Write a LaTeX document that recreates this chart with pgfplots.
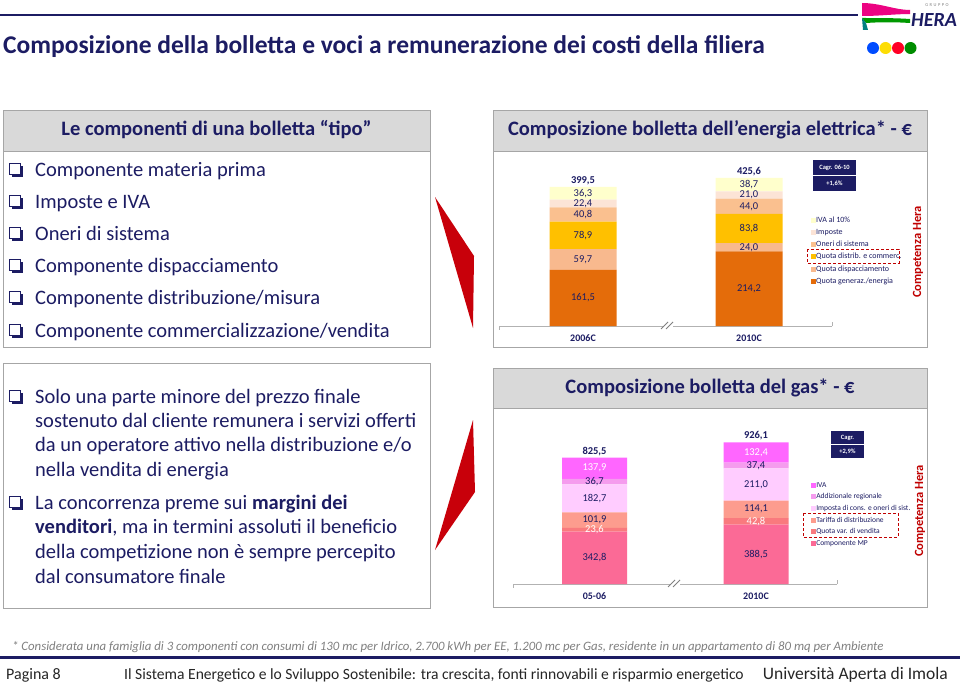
\documentclass[border=0pt]{standalone}
\usepackage{pgfplots}
\pgfplotsset{compat=1.18}
\usepackage{pgfplotstable}
\usepackage{fontspec}
\setmainfont{Carlito}

\definecolor{navy}{HTML}{1C1C63}
\definecolor{hdrgray}{HTML}{D9D9D9}
\definecolor{bordergray}{HTML}{A6A6A6}
\definecolor{hred}{HTML}{C00000}
\definecolor{arrowred}{HTML}{C8000A}
\definecolor{eGen}{HTML}{E46C0A}
\definecolor{eDisp}{HTML}{F8B98E}
\definecolor{eDist}{HTML}{FFC000}
\definecolor{eOneri}{HTML}{FAC08F}
\definecolor{eImp}{HTML}{FCE4D6}
\definecolor{eIva}{HTML}{FFFFCC}
\definecolor{gMP}{HTML}{FB6A96}
\definecolor{gVend}{HTML}{F97A7E}
\definecolor{gDist}{HTML}{FD9C8E}
\definecolor{gImp}{HTML}{FFCCFF}
\definecolor{gAdd}{HTML}{F59CEE}
\definecolor{gIva}{HTML}{FF66FF}

\newcommand\fs[1]{\fontsize{#1}{#1}\selectfont}
\newcommand\cbox[2]{%
  \begin{scope}[shift={(#1,#2)}]
    \draw[navy,line width=1pt] (0,0) rectangle (11,11);
    \fill[navy] (11.5,2.5) rectangle (13.5,13.5);
    \fill[navy] (2.5,11.5) rectangle (13.5,13.5);
  \end{scope}}

\pgfplotstableread{
x gen disp dist oneri imp iva
583 161.5 59.7 78.9 40.8 22.4 36.3
749 214.2 24.0 83.8 44.0 21.0 38.7
}\elec
\pgfplotstableread{
x tot lab
583 399.5 399,5
749 425.6 425,6
}\electot
\pgfplotstableread{
x mp vend dist imp add iva
594.5 342.8 23.6 101.9 182.7 36.7 137.9
756 388.5 42.8 114.1 211.0 37.4 132.4
}\gas
\pgfplotstableread{
x tot lab
594.5 825.5 825,5
756 926.1 926,1
}\gastot

\begin{document}
\begin{tikzpicture}[x=1pt,y=-1pt]
\useasboundingbox (0,0) rectangle (960,685);
\fill[white] (0,0) rectangle (960,685);

% ---------- header ----------
\draw[navy,line width=2.5pt] (0,15) -- (858,15);
\node[anchor=base west,inner sep=0,text=navy,font=\bfseries\fs{25.5}] at (3,53) {Composizione della bolletta e voci a remunerazione dei costi della filiera};
% logo
\fill[magenta!90!red] (862,3) .. controls (880,3) and (895,10) .. (910,10) -- (910,14) .. controls (895,14) and (880,16) .. (862,16) -- cycle;
\fill[green!60!black] (862,18) .. controls (880,18) and (895,18) .. (910,19) -- (910,23) .. controls (895,22) and (880,22) .. (866,23) -- cycle;
\fill[teal] (862,18) -- (866,23) -- (868,30) -- (863,30) -- cycle;
\node[text=navy,font=\bfseries\itshape\fs{20},inner sep=0] at (934,20) {HERA};
\node[text=gray,font=\fs{4.5},inner sep=0] at (937,5) {G\,\,R\,\,U\,\,P\,\,P\,\,O};
\fill[blue!70!cyan] (873,48) circle[radius=6pt];
\fill[yellow!80!orange] (885.5,48) circle[radius=6pt];
\fill[red!85!magenta] (898,48) circle[radius=6pt];
\fill[green!55!black] (910.5,48) circle[radius=6pt];

% ---------- top-left panel ----------
\draw[bordergray,fill=white] (3,110) rectangle (430,347);
\fill[hdrgray] (3,110) rectangle (430,151);
\draw[bordergray] (3,110) rectangle (430,151);
\node[text=navy,font=\bfseries\fs{20.5},inner sep=0] at (216.5,130) {Le componenti di una bolletta “tipo”};
\foreach \yy/\tt in {170/{Componente materia prima},202/{Imposte e IVA},234/{Oneri di sistema},266/{Componente dispacciamento},298/{Componente distribuzione/misura},331/{Componente commercializzazione/vendita}}{
  \cbox{9.5}{\yy-7}
  \node[anchor=base west,inner sep=0,text=navy,font=\fs{20.5}] at (35,\yy+6.5) {\tt};
}

% ---------- bottom-left panel ----------
\draw[bordergray,fill=white] (3,363) rectangle (430,608);
\cbox{9.5}{390}
\cbox{9.5}{496}
\foreach \yy/\tt in {397/{Solo una parte minore del prezzo finale},421/{sostenuto dal cliente remunera i servizi offerti},445/{da un operatore attivo nella distribuzione e/o},470/{nella vendita di energia},503/{La concorrenza preme sui \textbf{margini dei}},527/{\textbf{venditori}, ma in termini assoluti il beneficio},552/{della competizione non è sempre percepito},577/{dal consumatore finale}}{
  \node[anchor=base west,inner sep=0,text=navy,font=\fs{20.5}] at (35,\yy+6.5) {\tt};
}

% ---------- arrows ----------
\fill[arrowred] (435,197) -- (474,256) -- (473,328) -- cycle;
\fill[arrowred] (473,420) -- (475,492) -- (435,550) -- cycle;

% ---------- right panels ----------
\draw[bordergray,fill=white] (493,110) rectangle (927,347);
\fill[hdrgray] (493,110) rectangle (927,151);
\draw[bordergray] (493,110) rectangle (927,151);
\node[text=navy,font=\bfseries\fs{20.5},inner sep=0] at (710,130) {Composizione bolletta dell’energia elettrica* - €};

\draw[bordergray,fill=white] (493,368) rectangle (927,607);
\fill[hdrgray] (493,368) rectangle (927,408);
\draw[bordergray] (493,368) rectangle (927,408);
\node[text=navy,font=\bfseries\fs{20.5},inner sep=0] at (710,388) {Composizione bolletta del gas* - €};

% ---------- electricity chart ----------
\begin{axis}[
  at={(499pt,-326pt)}, anchor=south west,
  x=1pt, y=0.348pt, xmin=499, xmax=832, ymin=0, ymax=500,
  enlargelimits=false, clip=false,
  axis x line=bottom, axis y line=none,
  x axis line style={-, draw=gray!60, line width=0.6pt},
  xtick={583,749}, xticklabels={2006C,2010C},
  xtick style={draw=none}, ytick=\empty,
  xticklabel style={font=\bfseries\fs{10}, text=navy, yshift=-3pt},
  ybar stacked, bar width=67pt,
  nodes near coords, point meta=explicit,
  every node near coord/.append style={font=\fs{10.5}, text=navy, anchor=center},
  legend cell align=left, reverse legend,
  legend style={at={(rel axis cs:0.937,0.632)}, anchor=north west, draw=none, fill=none, font=\fs{8}, text=navy, row sep=4.2pt, inner sep=0pt, nodes={inner sep=0pt, text height=6pt, text depth=2pt}, /tikz/every even column/.append style={column sep=1.5pt}},
  every axis plot post/.append style={draw=none, legend image code/.code={\fill[##1] (0pt,-2.5pt) rectangle (5pt,2.5pt);}},
  /pgf/number format/use comma, /pgf/number format/fixed, /pgf/number format/fixed zerofill, /pgf/number format/precision=1, /pgf/number format/assume math mode=true,
]
\addplot[fill=eGen] table[x=x,y=gen,meta=gen]{\elec};
\addplot[fill=eDisp] table[x=x,y=disp,meta=disp]{\elec};
\addplot[fill=eDist] table[x=x,y=dist,meta=dist]{\elec};
\addplot[fill=eOneri] table[x=x,y=oneri,meta=oneri]{\elec};
\addplot[fill=eImp] table[x=x,y=imp,meta=imp]{\elec};
\addplot[fill=eIva] table[x=x,y=iva,meta=iva]{\elec};
\legend{Quota generaz./energia, Quota dispacciamento, Quota distrib. e commerc., Oneri di sistema, Imposte, IVA al 10\%}
\end{axis}
\begin{axis}[
  at={(499pt,-326pt)}, anchor=south west,
  x=1pt, y=0.348pt, xmin=499, xmax=832, ymin=0, ymax=500,
  enlargelimits=false, clip=false, hide axis,
]
\addplot[draw=none, nodes near coords, point meta=explicit symbolic, every node near coord/.style={anchor=south, font=\bfseries\fs{10.5}, text=navy, inner sep=2pt}] table[x=x,y=tot,meta=lab]{\electot};
\end{axis}

% ---------- gas chart ----------
\begin{axis}[
  at={(513pt,-584pt)}, anchor=south west,
  x=1pt, y=0.153pt, xmin=513, xmax=837, ymin=0, ymax=1000,
  enlargelimits=false, clip=false,
  axis x line=bottom, axis y line=none,
  x axis line style={-, draw=gray!60, line width=0.6pt},
  xtick={594.5,756}, xticklabels={05-06,2010C},
  xtick style={draw=none}, ytick=\empty,
  xticklabel style={font=\bfseries\fs{10}, text=navy, yshift=-3pt},
  ybar stacked, bar width=65pt,
  nodes near coords, point meta=explicit,
  every node near coord/.append style={font=\fs{10.5}, text=navy, anchor=center},
  legend cell align=left, reverse legend,
  legend style={at={(rel axis cs:0.920,0.673)}, anchor=north west, draw=none, fill=none, font=\fs{7.5}, text=navy, row sep=3.6pt, inner sep=0pt, nodes={inner sep=0pt, text height=6pt, text depth=2pt}, /tikz/every even column/.append style={column sep=1.5pt}},
  every axis plot post/.append style={draw=none, legend image code/.code={\fill[##1] (0pt,-2.5pt) rectangle (5pt,2.5pt);}},
  /pgf/number format/use comma, /pgf/number format/fixed, /pgf/number format/fixed zerofill, /pgf/number format/precision=1, /pgf/number format/assume math mode=true,
]
\addplot[fill=gMP] table[x=x,y=mp,meta=mp]{\gas};
\addplot[fill=gVend, every node near coord/.append style={text=white}] table[x=x,y=vend,meta=vend]{\gas};
\addplot[fill=gDist] table[x=x,y=dist,meta=dist]{\gas};
\addplot[fill=gImp] table[x=x,y=imp,meta=imp]{\gas};
\addplot[fill=gAdd] table[x=x,y=add,meta=add]{\gas};
\addplot[fill=gIva, every node near coord/.append style={text=white}] table[x=x,y=iva,meta=iva]{\gas};
\legend{Componente MP, Quota var. di vendita, Tariffa di distribuzione, Imposta di cons. e oneri di sist., Addizionale regionale, IVA}
\end{axis}
\begin{axis}[
  at={(513pt,-584pt)}, anchor=south west,
  x=1pt, y=0.153pt, xmin=513, xmax=837, ymin=0, ymax=1000,
  enlargelimits=false, clip=false, hide axis,
]
\addplot[draw=none, nodes near coords, point meta=explicit symbolic, every node near coord/.style={anchor=south, font=\bfseries\fs{10.5}, text=navy, inner sep=2pt}] table[x=x,y=tot,meta=lab]{\gastot};
\end{axis}

% axis end ticks and breaks
\draw[gray!60,line width=0.6pt] (499,326) -- (499,330) (832,326) -- (832,322);
\draw[gray!60,line width=0.6pt] (513,584) -- (513,588) (837,584) -- (837,580);
\fill[white] (663,321) rectangle (673,330);
\draw[gray,line width=0.8pt] (661,329) -- (668,322) (666,329) -- (673,322);
\fill[white] (670,579) rectangle (680,588);
\draw[gray,line width=0.8pt] (668,587) -- (675,580) (673,587) -- (680,580);

% Cagr boxes
\fill[navy] (813,160) rectangle (856,191);
\draw[white,line width=0.8pt] (813,175.5) -- (856,175.5);
\node[text=white,font=\bfseries\fs{6.5},inner sep=0] at (834.5,168) {Cagr. 06-10};
\node[text=white,font=\bfseries\fs{6.5},inner sep=0] at (834.5,183.5) {+1,6\%};
\fill[navy] (831,431) rectangle (864,458);
\draw[white,line width=0.8pt] (831,444.5) -- (864,444.5);
\node[text=white,font=\bfseries\fs{6.5},inner sep=0] at (847.5,438) {Cagr.};
\node[text=white,font=\bfseries\fs{6.5},inner sep=0] at (847.5,451.5) {+2,9\%};

% dashed boxes
\draw[hred,line width=1pt,dash pattern=on 3pt off 2pt] (807,249) rectangle (899,263);
\draw[hred,line width=1pt,dash pattern=on 3pt off 2pt] (803,513) rectangle (898,537);

% Competenza Hera
\node[rotate=90,text=hred,font=\bfseries\fs{12.5},inner sep=0] at (918,252) {Competenza Hera};
\node[rotate=90,text=hred,font=\bfseries\fs{12.5},inner sep=0] at (920,511) {Competenza Hera};

% ---------- footer ----------
\node[anchor=base west,inner sep=0,text=gray,font=\itshape\fs{12.8}] at (12,650) {* Considerata una famiglia di 3 componenti con consumi di 130 mc per Idrico, 2.700 kWh per EE, 1.200 mc per Gas, residente in un appartamento di 80 mq per Ambiente};
\draw[navy,line width=3pt] (0,657) -- (960,657);
\node[anchor=base west,inner sep=0,text=black!85,font=\fs{16}] at (6,679) {Pagina 8};
\node[anchor=base west,inner sep=0,text=black!85,font=\fs{15.6}] at (124,679) {Il Sistema Energetico e lo Sviluppo Sostenibile: tra crescita, fonti rinnovabili e risparmio energetico};
\node[anchor=base east,inner sep=0,text=black!85,font=\fs{17.5}] at (948,679) {Università Aperta di Imola};
\end{tikzpicture}
\end{document}
